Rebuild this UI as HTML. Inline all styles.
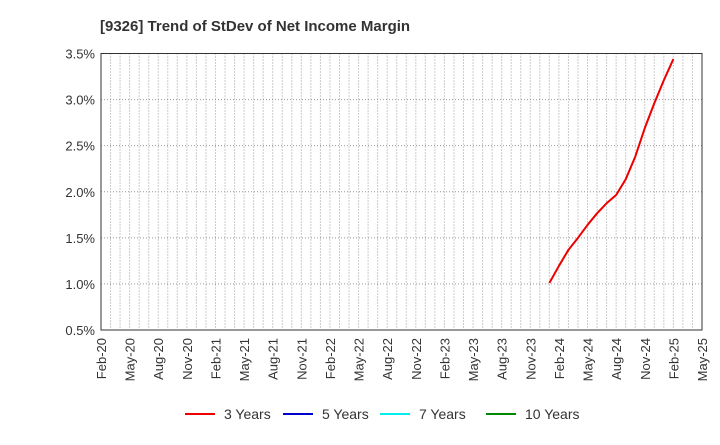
<!DOCTYPE html>
<html><head><meta charset="utf-8"><style>
body{margin:0;background:#fff;font-family:"Liberation Sans",Arial,sans-serif}
svg text{font-family:"Liberation Sans",Arial,sans-serif}
</style></head><body>
<svg id="c" width="720" height="440" xmlns="http://www.w3.org/2000/svg">
<text x="100" y="31" font-size="15" font-weight="bold" fill="#333">[9326]  Trend of StDev of Net Income Margin</text>
<g id="grid"></g><g id="axes"></g><g id="series"></g>
<g>
<g><line x1="185" y1="414" x2="215" y2="414" stroke="#e00" stroke-width="2"/><text x="224" y="419" font-size="14" fill="#333">3 Years</text></g>
<g><line x1="283" y1="414" x2="313" y2="414" stroke="#00c" stroke-width="2"/><text x="322" y="419" font-size="14" fill="#333">5 Years</text></g>
<g><line x1="380" y1="414" x2="410" y2="414" stroke="#0ee" stroke-width="2"/><text x="419" y="419" font-size="14" fill="#333">7 Years</text></g>
<g><line x1="486" y1="414" x2="516" y2="414" stroke="#080" stroke-width="2"/><text x="525" y="419" font-size="14" fill="#333">10 Years</text></g>
</g>
</svg>
<script>
const xTickLabels=["Feb-20","May-20","Aug-20","Nov-20","Feb-21","May-21","Aug-21","Nov-21","Feb-22","May-22","Aug-22","Nov-22","Feb-23","May-23","Aug-23","Nov-23","Feb-24","May-24","Aug-24","Nov-24","Feb-25","May-25"];
const yTicks=[0.5,1.0,1.5,2.0,2.5,3.0,3.5];
const months3y=[47,48,49,50,51,52,53,54,55,56,57,58,59,60];
const values3y=[1.01,1.195,1.37,1.50,1.64,1.766,1.875,1.965,2.135,2.38,2.69,2.96,3.21,3.44];
const L=101,R=702,T=53.5,B=330,NM=63;
const xs=m=>L+(R-L)*m/NM, ys=v=>B-(B-T)*(v-0.5)/3;
const NS="http://www.w3.org/2000/svg";
function mk(tag,attrs,parent){const e=document.createElementNS(NS,tag);for(const k in attrs)e.setAttribute(k,attrs[k]);parent.appendChild(e);return e;}
const grid=document.getElementById('grid'),axes=document.getElementById('axes'),series=document.getElementById('series');
for(let m=1;m<NM;m++){const l=mk('line',{x1:xs(m),x2:xs(m),y1:T,y2:B,stroke:'#999','stroke-width':1,'stroke-dasharray':'1,2'},grid);

}
yTicks.forEach(v=>{const y=ys(v);
if(v>0.5&&v<3.5){const l=mk('line',{x1:L,x2:R,y1:y,y2:y,stroke:'#999','stroke-width':1,'stroke-dasharray':'1,2'},grid);

}
const t=mk('text',{x:L-6,y:y+5,'text-anchor':'end','font-size':13,fill:'#333'},axes);t.textContent=v.toFixed(1)+'%';

});
xTickLabels.forEach((s,i)=>{const x=xs(i*3);
const t=mk('text',{transform:`translate(${x+5},${B+8}) rotate(-90)`,'text-anchor':'end','font-size':13,fill:'#333'},axes);t.textContent=s;

});
const fr=mk('rect',{x:L,y:T,width:R-L,height:B-T,fill:'none',stroke:'#333','stroke-width':1},axes);


const p=mk('polyline',{points:months3y.map((m,i)=>xs(m)+','+ys(values3y[i])).join(' '),fill:'none',stroke:'#e00','stroke-width':2,'stroke-linejoin':'round'},series);


</script>
</body></html>
